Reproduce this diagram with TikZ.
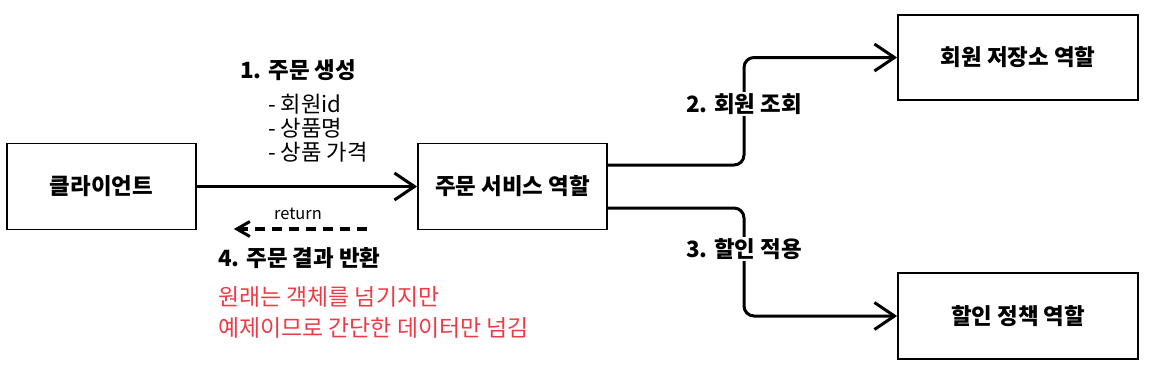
\documentclass[tikz,border=0pt]{standalone}
\usepackage{fontspec}
\setmainfont{Noto Sans CJK KR}
\usetikzlibrary{arrows.meta,calc}
\definecolor{notered}{RGB}{238,58,70}
\tikzset{
  box/.style={draw, line width=1.8bp, minimum width=#1, minimum height=86bp, inner sep=0pt, font=\fontsize{22.5}{26}\selectfont\bfseries},
  box/.default=188bp,
  conn/.style={line width=3bp, -{Straight Barb[length=20bp,width=27bp,line width=3bp]}},
  retconn/.style={line width=3.3bp, dash pattern=on 10bp off 7bp, -{Straight Barb[length=13bp,width=15bp,line width=3bp,sep]}},
  lbl/.style={font=\fontsize{22.5}{26}\selectfont\bfseries, inner sep=1bp},
  item/.style={font=\fontsize{22.3}{24}\selectfont, inner sep=0pt, anchor=west},
  note/.style={font=\fontsize{23}{25}\selectfont, text=notered, inner sep=0pt, anchor=west},
}
\begin{document}
\begin{tikzpicture}[x=1bp,y=-1bp]
\useasboundingbox (0,0) rectangle (1152,371);
\node[box=189bp] (client) at (101.5,186.5) {클라이언트};
\node[box=189bp] (order) at (512.5,186.5) {주문 서비스 역할};
\node[box=240bp, minimum height=85bp] (member) at (1018,57.5) {회원 저장소 역할};
\node[box=240bp] (discount) at (1018,316) {할인 정책 역할};
\coordinate (bend) at (744,0);
\coordinate (retS) at (367,229);
\coordinate (retE) at (232,229);
% connectors
\draw[conn] (client.east) -- (order.west);
\draw[conn, rounded corners=10bp] ([yshift=21.5bp]order.east) -| (bend |- member.west) -- (member.west);
\draw[conn, rounded corners=10bp] ([yshift=-21.5bp]order.east) -| (bend |- discount.west) -- (discount.west);
\draw[retconn] (retS) -- (retE);
% labels
\node[lbl, fill=white] (l2) at (744,104) {2. 회원 조회};
\node[lbl, fill=white] (l3) at (744,249) {3. 할인 적용};
\node[lbl, anchor=west, inner sep=0pt] (l1) at (240,70) {1. 주문 생성};
\node[item] (i1) at (268,104) {- 회원id};
\node[item] (i2) at (268,128) {- 상품명};
\node[item] (i3) at (268,152) {- 상품 가격};
\node[font=\fontsize{16.5}{19}\selectfont, inner sep=0pt] (ret) at (298,214) {return};
\node[lbl, anchor=west, inner sep=0pt] (l4) at (218,258) {4. 주문 결과 반환};
\node[note] (n1) at (218,297) {원래는 객체를 넘기지만};
\node[note] (n2) at (218,328) {예제이므로 간단한 데이터만 넘김};
\end{tikzpicture}
\end{document}
